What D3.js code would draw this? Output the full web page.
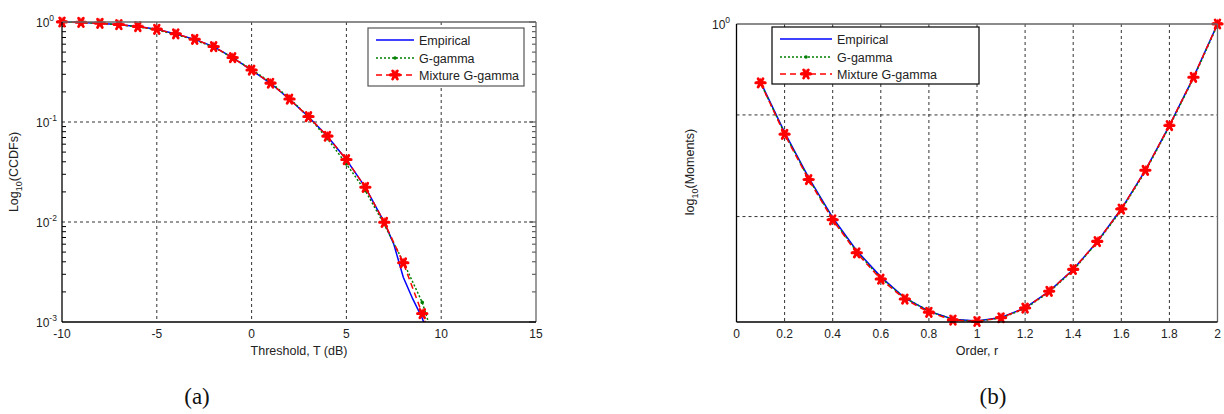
<!DOCTYPE html>
<html>
<head>
<meta charset="utf-8">
<script src="https://cdn.jsdelivr.net/npm/d3@7"></script>
<style>
  body { margin: 0; background: #fff; }
  svg { display: block; font-family: "Liberation Sans", Arial, sans-serif; }
</style>
</head>
<body>
<svg width="1224" height="414"></svg>
<script>
// ---- panel (a): CCDFs vs threshold ----
const thresholds = [-10, -9, -8, -7, -6, -5, -4, -3, -2, -1, 0, 1, 2, 3, 4, 5, 6, 7, 8, 9, 10];
const ccdfMixture = [1.0, 0.99, 0.97, 0.94, 0.90, 0.845, 0.76, 0.67, 0.567, 0.44, 0.33, 0.244, 0.169, 0.113, 0.072, 0.042, 0.0222, 0.0099, 0.0039, 0.00121, 0.00034];
const ccdfGgamma = [1.0, 0.99, 0.97, 0.94, 0.895, 0.835, 0.75, 0.66, 0.56, 0.44, 0.335, 0.25, 0.172, 0.113, 0.068, 0.038, 0.0205, 0.0094, 0.0040, 0.00157, 0.00039];
const empThresholds = [-10, -9, -8, -7, -6, -5, -4, -3, -2, -1, 0, 1, 2, 3, 4, 5, 6, 7, 7.5, 8, 8.5, 9, 9.5];
const ccdfEmpirical = [1.0, 0.99, 0.97, 0.94, 0.90, 0.845, 0.76, 0.67, 0.567, 0.44, 0.33, 0.244, 0.169, 0.113, 0.072, 0.042, 0.0222, 0.0099, 0.0060, 0.0028, 0.0017, 0.00109, 0.0006];
const xTicksA = [-10, -5, 0, 5, 10, 15];
const yTicksA = [1, 0.1, 0.01, 0.001];
const yTickExpA = ["0", "-1", "-2", "-3"];

// ---- panel (b): moments vs order ----
const orders = [0.1, 0.2, 0.3, 0.4, 0.5, 0.6, 0.7, 0.8, 0.9, 1.0, 1.1, 1.2, 1.3, 1.4, 1.5, 1.6, 1.7, 1.8, 1.9, 2.0];
const momMixture = [0.934, 0.880, 0.835, 0.797, 0.767, 0.744, 0.727, 0.716, 0.7096, 0.7084, 0.7115, 0.7195, 0.7336, 0.7524, 0.7772, 0.807, 0.844, 0.889, 0.940, 1.0];
const momGgamma = [0.934, 0.881, 0.836, 0.798, 0.768, 0.745, 0.728, 0.717, 0.7100, 0.7086, 0.7113, 0.7190, 0.7330, 0.7518, 0.7765, 0.806, 0.843, 0.888, 0.939, 0.999];
const momEmpirical = [0.935, 0.882, 0.837, 0.799, 0.769, 0.746, 0.728, 0.717, 0.7102, 0.7088, 0.7117, 0.7197, 0.7336, 0.7524, 0.7770, 0.807, 0.844, 0.889, 0.940, 1.0];
const xTicksB = [0, 0.2, 0.4, 0.6, 0.8, 1, 1.2, 1.4, 1.6, 1.8, 2];
const yGridB = [0.8, 0.9];

const seriesNames = ["Empirical", "G-gamma", "Mixture G-gamma"];

const svg = d3.select("svg");

function drawStar(g, x, y) {
    g.append("path")
        .attr("d", d3.symbol(d3.symbolAsterisk, 64)())
        .attr("transform", `translate(${x},${y}) rotate(90)`)
        .attr("fill", "none")
        .attr("stroke", "#ff0000")
        .attr("stroke-width", 2.8)
        .attr("stroke-linecap", "round");
    g.append("path")
        .attr("d", d3.symbol(d3.symbolStar, 34)())
        .attr("transform", `translate(${x},${y})`)
        .attr("fill", "#ff0000");
}

function drawSeries(g, xs, ys, x, y, clipId) {
    const line = d3.line().x((d, i) => x(xs[i])).y(d => y(d));
    const s = g.append("g").attr("clip-path", `url(#${clipId})`);
    // empirical
    s.append("path")
        .datum(ys.emp)
        .attr("d", d3.line().x((d, i) => x(ys.empX[i])).y(d => y(d)))
        .attr("fill", "none").attr("stroke", "#0000ff").attr("stroke-width", 1.5);
    // g-gamma
    s.append("path")
        .datum(ys.gg)
        .attr("d", line)
        .attr("fill", "none").attr("stroke", "#008000").attr("stroke-width", 1.5)
        .attr("stroke-dasharray", "2,2");
    s.selectAll(".gdot")
        .data(ys.gg)
        .enter()
        .append("circle")
        .attr("cx", (d, i) => x(xs[i]))
        .attr("cy", d => y(d))
        .attr("r", 1.8)
        .attr("fill", "#008000");
    // mixture
    s.append("path")
        .datum(ys.mix)
        .attr("d", line)
        .attr("fill", "none").attr("stroke", "#ff0000").attr("stroke-width", 1.5)
        .attr("stroke-dasharray", "6,4");
    ys.mix.forEach((d, i) => drawStar(s, x(xs[i]), y(d)));
}

function drawLegend(g, lx, ly, w, h, sampleLen, border) {
    g.append("rect")
        .attr("x", lx).attr("y", ly).attr("width", w).attr("height", h)
        .attr("fill", "#fff").attr("stroke", border).attr("stroke-width", 1.2);
    const rowY = [ly + 12, ly + 30, ly + 47];
    const sx = lx + 8;
    // empirical
    g.append("line").attr("x1", sx).attr("x2", sx + sampleLen).attr("y1", rowY[0]).attr("y2", rowY[0])
        .attr("stroke", "#0000ff").attr("stroke-width", 1.5);
    // g-gamma
    g.append("line").attr("x1", sx).attr("x2", sx + sampleLen).attr("y1", rowY[1]).attr("y2", rowY[1])
        .attr("stroke", "#008000").attr("stroke-width", 1.5).attr("stroke-dasharray", "2,2");
    g.append("circle").attr("cx", sx + sampleLen / 2).attr("cy", rowY[1]).attr("r", 1.8).attr("fill", "#008000");
    // mixture
    g.append("line").attr("x1", sx).attr("x2", sx + sampleLen).attr("y1", rowY[2]).attr("y2", rowY[2])
        .attr("stroke", "#ff0000").attr("stroke-width", 1.5).attr("stroke-dasharray", "6,4");
    drawStar(g, sx + sampleLen / 2, rowY[2]);
    seriesNames.forEach((name, i) => {
        g.append("text")
            .attr("x", sx + sampleLen + 5).attr("y", rowY[i] + 4.5)
            .attr("font-size", 12.5).attr("fill", "#222")
            .text(name);
    });
}

function frame(g, x0, x1, y0, y1) {
    g.append("line").attr("x1", x0).attr("x2", x1).attr("y1", y0).attr("y2", y0).attr("stroke", "#666").attr("stroke-width", 1.3);
    g.append("line").attr("x1", x1).attr("x2", x1).attr("y1", y0).attr("y2", y1).attr("stroke", "#666").attr("stroke-width", 1.3);
    g.append("line").attr("x1", x0).attr("x2", x1).attr("y1", y1).attr("y2", y1).attr("stroke", "#000").attr("stroke-width", 1.3);
    g.append("line").attr("x1", x0).attr("x2", x0).attr("y1", y0).attr("y2", y1).attr("stroke", "#000").attr("stroke-width", 1.3);
}

const defs = svg.append("defs");

// ================= panel (a) =================
const xA = d3.scaleLinear().domain([-10, 15]).range([62, 536]);
const yA = d3.scaleLog().domain([0.001, 1]).range([322, 22]);
defs.append("clipPath").attr("id", "clipA").append("rect")
    .attr("x", 52).attr("y", 12).attr("width", 484).attr("height", 310);

const gA = svg.append("g");
// grid
gA.selectAll(".gx").data(xTicksA.slice(1, -1)).enter().append("line")
    .attr("x1", d => xA(d)).attr("x2", d => xA(d)).attr("y1", 22).attr("y2", 322)
    .attr("stroke", "#333").attr("stroke-dasharray", "3,3");
gA.selectAll(".gy").data(yTicksA.slice(1, -1)).enter().append("line")
    .attr("x1", 62).attr("x2", 536).attr("y1", d => yA(d)).attr("y2", d => yA(d))
    .attr("stroke", "#333").attr("stroke-dasharray", "3,3");
// minor log ticks on both sides
const minorA = yA.ticks().filter(d => yTicksA.indexOf(d) < 0);
gA.selectAll(".ml").data(minorA).enter().append("line")
    .attr("x1", 62).attr("x2", 66).attr("y1", d => yA(d)).attr("y2", d => yA(d)).attr("stroke", "#000");
gA.selectAll(".mr").data(minorA).enter().append("line")
    .attr("x1", 532).attr("x2", 536).attr("y1", d => yA(d)).attr("y2", d => yA(d)).attr("stroke", "#444");
gA.selectAll(".Mr").data(yTicksA).enter().append("line")
    .attr("x1", 529).attr("x2", 536).attr("y1", d => yA(d)).attr("y2", d => yA(d)).attr("stroke", "#444");

drawSeries(gA, thresholds, {emp: ccdfEmpirical, empX: empThresholds, gg: ccdfGgamma, mix: ccdfMixture}, xA, yA, "clipA");
frame(gA, 62, 536, 22, 322);

// x tick labels
gA.selectAll(".xl").data(xTicksA).enter().append("text")
    .attr("x", d => xA(d)).attr("y", 338)
    .attr("text-anchor", "middle").attr("font-size", 12).attr("fill", "#222")
    .text(d => d);
// y tick labels 10^k
yTicksA.forEach((d, i) => {
    const t = gA.append("text").attr("x", 36).attr("y", yA(d) + 5).attr("font-size", 12).attr("fill", "#222");
    t.append("tspan").text("10");
    t.append("tspan").attr("dy", -6).attr("font-size", 8.5).text(yTickExpA[i]);
});
gA.append("text").attr("x", xA(2.5)).attr("y", 355)
    .attr("text-anchor", "middle").attr("font-size", 12.5).attr("fill", "#222")
    .text("Threshold, T (dB)");
const ylA = gA.append("text").attr("transform", "translate(18,172) rotate(-90)")
    .attr("text-anchor", "middle").attr("font-size", 12.5).attr("fill", "#222");
ylA.append("tspan").text("Log");
ylA.append("tspan").attr("dy", 4).attr("font-size", 9).text("10");
ylA.append("tspan").attr("dy", -4).text("(CCDFs)");

drawLegend(gA, 368, 28, 156, 58, 38, "#555");

// ================= panel (b) =================
const xB = d3.scaleLinear().domain([0, 2]).range([736.5, 1217.5]);
const yB = d3.scaleLog().domain([0.708, 1]).range([322, 24]);
defs.append("clipPath").attr("id", "clipB").append("rect")
    .attr("x", 730).attr("y", 14).attr("width", 500).attr("height", 314);

const gB = svg.append("g");
gB.selectAll(".gx").data(xTicksB.slice(1, -1)).enter().append("line")
    .attr("x1", d => xB(d)).attr("x2", d => xB(d)).attr("y1", 24).attr("y2", 322)
    .attr("stroke", "#333").attr("stroke-dasharray", "3,3");
gB.selectAll(".gy").data(yGridB).enter().append("line")
    .attr("x1", 736.5).attr("x2", 1217.5).attr("y1", d => yB(d)).attr("y2", d => yB(d))
    .attr("stroke", "#333").attr("stroke-dasharray", "3,3");

drawLegend(gB, 772, 27, 207, 57, 52, "#000");
drawSeries(gB, orders, {emp: momEmpirical, empX: orders, gg: momGgamma, mix: momMixture}, xB, yB, "clipB");
frame(gB, 736.5, 1217.5, 24, 322);

gB.selectAll(".xl").data(xTicksB).enter().append("text")
    .attr("x", d => xB(d)).attr("y", 338)
    .attr("text-anchor", "middle").attr("font-size", 12).attr("fill", "#222")
    .text(d => d);
const t0 = gB.append("text").attr("x", 712).attr("y", yB(1) + 5).attr("font-size", 12).attr("fill", "#222");
t0.append("tspan").text("10");
t0.append("tspan").attr("dy", -6).attr("font-size", 8.5).text("0");
gB.append("text").attr("x", xB(1)).attr("y", 355)
    .attr("text-anchor", "middle").attr("font-size", 12.5).attr("fill", "#222")
    .text("Order, r");
const ylB = gB.append("text").attr("transform", "translate(694,172) rotate(-90)")
    .attr("text-anchor", "middle").attr("font-size", 12.5).attr("fill", "#222");
ylB.append("tspan").text("log");
ylB.append("tspan").attr("dy", 4).attr("font-size", 9).text("10");
ylB.append("tspan").attr("dy", -4).text("(Moments)");

// captions
svg.append("text").attr("x", 197).attr("y", 404).attr("text-anchor", "middle")
    .attr("font-family", "Liberation Serif, serif").attr("font-size", 23).attr("fill", "#111").text("(a)");
svg.append("text").attr("x", 993).attr("y", 404).attr("text-anchor", "middle")
    .attr("font-family", "Liberation Serif, serif").attr("font-size", 23).attr("fill", "#111").text("(b)");
</script>
</body>
</html>
